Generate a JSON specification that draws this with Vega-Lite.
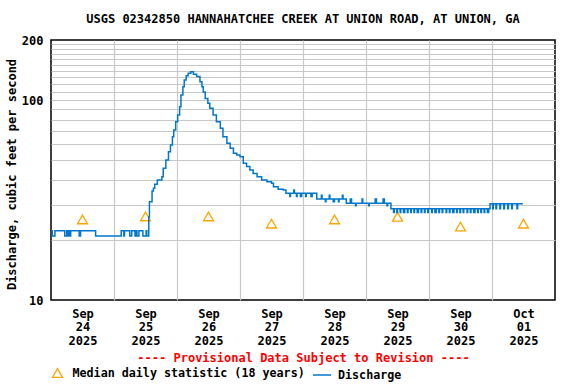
{
  "$schema": "https://vega.github.io/schema/vega-lite/v6.json",
  "width": 504,
  "height": 260,
  "autosize": "none",
  "padding": {"left": 51, "top": 40, "right": 21, "bottom": 84},
  "background": "white",
  "title": {"text": "USGS 02342850 HANNAHATCHEE CREEK AT UNION ROAD, AT UNION, GA", "font": "DejaVu Sans Mono", "fontSize": 12, "fontWeight": "bold", "color": "black", "anchor": "middle", "frame": "group", "offset": 8},
  "config": {
    "view": {"stroke": "black", "strokeWidth": 1.5},
    "axis": {"labelFont": "DejaVu Sans Mono", "labelFontSize": 12, "labelFontWeight": "bold", "labelColor": "black", "titleFont": "DejaVu Sans Mono", "titleFontSize": 12, "titleFontWeight": "bold", "titleColor": "black", "gridColor": "#C8C8C8", "gridWidth": 1.2, "gridOpacity": 1},
    "legend": {"labelFont": "DejaVu Sans Mono", "labelFontSize": 11.7, "labelFontWeight": "bold", "labelColor": "black", "padding": 0, "labelLimit": 400}
  },
  "datasets": {
    "flow": [
      {"t": "2025-09-24T00:00", "q": 22.2}, {"t": "2025-09-24T00:30", "q": 20.9}, {"t": "2025-09-24T01:30", "q": 22.2},
      {"t": "2025-09-24T05:15", "q": 20.9}, {"t": "2025-09-24T06:00", "q": 22.2}, {"t": "2025-09-24T06:30", "q": 20.9},
      {"t": "2025-09-24T06:45", "q": 22.2}, {"t": "2025-09-24T07:15", "q": 20.9}, {"t": "2025-09-24T07:30", "q": 22.2},
      {"t": "2025-09-24T10:45", "q": 20.9}, {"t": "2025-09-24T11:15", "q": 22.2}, {"t": "2025-09-24T17:00", "q": 20.9},
      {"t": "2025-09-25T02:45", "q": 22.2}, {"t": "2025-09-25T03:45", "q": 20.9}, {"t": "2025-09-25T04:00", "q": 22.2},
      {"t": "2025-09-25T06:00", "q": 20.9}, {"t": "2025-09-25T06:45", "q": 22.2}, {"t": "2025-09-25T08:00", "q": 20.9},
      {"t": "2025-09-25T08:15", "q": 22.2}, {"t": "2025-09-25T08:45", "q": 20.9}, {"t": "2025-09-25T09:30", "q": 22.2},
      {"t": "2025-09-25T11:00", "q": 20.9}, {"t": "2025-09-25T12:15", "q": 22.2}, {"t": "2025-09-25T12:30", "q": 20.9},
      {"t": "2025-09-25T13:15", "q": 26.0}, {"t": "2025-09-25T13:30", "q": 31.0}, {"t": "2025-09-25T14:30", "q": 35.1},
      {"t": "2025-09-25T15:00", "q": 36.2}, {"t": "2025-09-25T15:30", "q": 37.9}, {"t": "2025-09-25T16:30", "q": 39.9},
      {"t": "2025-09-25T18:15", "q": 41.4}, {"t": "2025-09-25T18:45", "q": 45.6}, {"t": "2025-09-25T19:45", "q": 50.2},
      {"t": "2025-09-25T20:45", "q": 55.2}, {"t": "2025-09-25T21:30", "q": 59.7}, {"t": "2025-09-25T22:15", "q": 65.6},
      {"t": "2025-09-25T22:45", "q": 70.9}, {"t": "2025-09-25T23:30", "q": 78.0}, {"t": "2025-09-26T00:15", "q": 84.3},
      {"t": "2025-09-26T01:00", "q": 92.7}, {"t": "2025-09-26T01:30", "q": 106}, {"t": "2025-09-26T02:15", "q": 116.8},
      {"t": "2025-09-26T02:45", "q": 126.2}, {"t": "2025-09-26T03:30", "q": 132.6}, {"t": "2025-09-26T04:15", "q": 136.3},
      {"t": "2025-09-26T05:15", "q": 138.9}, {"t": "2025-09-26T06:15", "q": 134.8}, {"t": "2025-09-26T07:30", "q": 131.2},
      {"t": "2025-09-26T08:45", "q": 123.8}, {"t": "2025-09-26T09:30", "q": 116.8}, {"t": "2025-09-26T10:00", "q": 110},
      {"t": "2025-09-26T10:45", "q": 102}, {"t": "2025-09-26T11:45", "q": 96.5}, {"t": "2025-09-26T12:30", "q": 91},
      {"t": "2025-09-26T13:45", "q": 84.3}, {"t": "2025-09-26T15:00", "q": 78}, {"t": "2025-09-26T16:30", "q": 72.3},
      {"t": "2025-09-26T17:30", "q": 65.6}, {"t": "2025-09-26T19:00", "q": 60.8}, {"t": "2025-09-26T20:15", "q": 57.4},
      {"t": "2025-09-26T21:30", "q": 54.2}, {"t": "2025-09-26T22:45", "q": 53.2}, {"t": "2025-09-27T00:00", "q": 52.1},
      {"t": "2025-09-27T01:15", "q": 48.3}, {"t": "2025-09-27T02:30", "q": 46.5}, {"t": "2025-09-27T03:45", "q": 44.7},
      {"t": "2025-09-27T05:00", "q": 43.0}, {"t": "2025-09-27T06:30", "q": 41.4}, {"t": "2025-09-27T08:15", "q": 39.8},
      {"t": "2025-09-27T10:15", "q": 39.1}, {"t": "2025-09-27T12:00", "q": 38.4}, {"t": "2025-09-27T12:45", "q": 36.9},
      {"t": "2025-09-27T14:30", "q": 35.8}, {"t": "2025-09-27T16:30", "q": 35.5}, {"t": "2025-09-27T17:30", "q": 34.2},
      {"t": "2025-09-27T19:00", "q": 33.0}, {"t": "2025-09-27T19:15", "q": 34.2}, {"t": "2025-09-27T20:30", "q": 35.5},
      {"t": "2025-09-27T20:45", "q": 34.2}, {"t": "2025-09-27T21:30", "q": 33.0}, {"t": "2025-09-27T21:45", "q": 34.2},
      {"t": "2025-09-27T23:00", "q": 33.0}, {"t": "2025-09-27T23:30", "q": 34.2}, {"t": "2025-09-28T01:00", "q": 33.0},
      {"t": "2025-09-28T01:15", "q": 34.2}, {"t": "2025-09-28T03:00", "q": 33.0}, {"t": "2025-09-28T03:30", "q": 34.2},
      {"t": "2025-09-28T05:15", "q": 32.0}, {"t": "2025-09-28T07:00", "q": 33.4}, {"t": "2025-09-28T07:15", "q": 32.0},
      {"t": "2025-09-28T08:30", "q": 31.0}, {"t": "2025-09-28T08:45", "q": 32.0}, {"t": "2025-09-28T10:00", "q": 33.4},
      {"t": "2025-09-28T10:15", "q": 32.0}, {"t": "2025-09-28T11:30", "q": 31.0}, {"t": "2025-09-28T12:00", "q": 32.0},
      {"t": "2025-09-28T13:30", "q": 31.0}, {"t": "2025-09-28T13:45", "q": 32.0}, {"t": "2025-09-28T15:00", "q": 33.4},
      {"t": "2025-09-28T15:15", "q": 32.0}, {"t": "2025-09-28T16:30", "q": 30.5}, {"t": "2025-09-28T18:00", "q": 32.0},
      {"t": "2025-09-28T18:30", "q": 30.5}, {"t": "2025-09-28T20:00", "q": 29.6}, {"t": "2025-09-28T20:15", "q": 30.5},
      {"t": "2025-09-28T22:30", "q": 32.0}, {"t": "2025-09-28T22:45", "q": 30.5}, {"t": "2025-09-29T01:00", "q": 29.6},
      {"t": "2025-09-29T01:15", "q": 30.5}, {"t": "2025-09-29T03:30", "q": 32.0}, {"t": "2025-09-29T04:00", "q": 30.5},
      {"t": "2025-09-29T06:30", "q": 32.0}, {"t": "2025-09-29T07:00", "q": 30.5}, {"t": "2025-09-29T08:00", "q": 29.6},
      {"t": "2025-09-29T08:15", "q": 30.5}, {"t": "2025-09-29T09:30", "q": 28.6},
      {"t": "2025-09-29T10:30", "q": 27.4}, {"t": "2025-09-29T10:45", "q": 28.6}, {"t": "2025-09-29T11:45", "q": 27.4},
      {"t": "2025-09-29T12:00", "q": 28.6}, {"t": "2025-09-29T13:00", "q": 27.4}, {"t": "2025-09-29T13:15", "q": 28.6},
      {"t": "2025-09-29T14:15", "q": 27.4}, {"t": "2025-09-29T14:45", "q": 28.6}, {"t": "2025-09-29T15:45", "q": 27.4},
      {"t": "2025-09-29T16:00", "q": 28.6}, {"t": "2025-09-29T17:00", "q": 27.4}, {"t": "2025-09-29T17:15", "q": 28.6},
      {"t": "2025-09-29T18:15", "q": 27.4}, {"t": "2025-09-29T18:30", "q": 28.6}, {"t": "2025-09-29T19:30", "q": 27.4},
      {"t": "2025-09-29T20:00", "q": 28.6}, {"t": "2025-09-29T21:00", "q": 27.4}, {"t": "2025-09-29T21:15", "q": 28.6},
      {"t": "2025-09-29T22:15", "q": 27.4}, {"t": "2025-09-29T22:30", "q": 28.6}, {"t": "2025-09-29T23:30", "q": 27.4},
      {"t": "2025-09-29T23:45", "q": 28.6}, {"t": "2025-09-30T01:00", "q": 27.4}, {"t": "2025-09-30T01:15", "q": 28.6},
      {"t": "2025-09-30T02:15", "q": 27.4}, {"t": "2025-09-30T02:45", "q": 28.6}, {"t": "2025-09-30T03:45", "q": 27.4},
      {"t": "2025-09-30T04:00", "q": 28.6}, {"t": "2025-09-30T05:00", "q": 27.4}, {"t": "2025-09-30T05:15", "q": 28.6},
      {"t": "2025-09-30T06:30", "q": 27.4}, {"t": "2025-09-30T06:45", "q": 28.6}, {"t": "2025-09-30T07:45", "q": 27.4},
      {"t": "2025-09-30T08:00", "q": 28.6}, {"t": "2025-09-30T09:00", "q": 27.4}, {"t": "2025-09-30T09:30", "q": 28.6},
      {"t": "2025-09-30T10:30", "q": 27.4}, {"t": "2025-09-30T10:45", "q": 28.6}, {"t": "2025-09-30T11:45", "q": 27.4},
      {"t": "2025-09-30T12:00", "q": 28.6}, {"t": "2025-09-30T13:00", "q": 27.4}, {"t": "2025-09-30T13:15", "q": 28.6},
      {"t": "2025-09-30T14:30", "q": 27.4}, {"t": "2025-09-30T14:45", "q": 28.6}, {"t": "2025-09-30T15:45", "q": 27.4},
      {"t": "2025-09-30T16:00", "q": 28.6}, {"t": "2025-09-30T17:00", "q": 27.4}, {"t": "2025-09-30T17:30", "q": 28.6},
      {"t": "2025-09-30T18:30", "q": 27.4}, {"t": "2025-09-30T18:45", "q": 28.6}, {"t": "2025-09-30T19:45", "q": 27.4},
      {"t": "2025-09-30T20:00", "q": 28.6}, {"t": "2025-09-30T21:00", "q": 27.4}, {"t": "2025-09-30T21:15", "q": 28.6},
      {"t": "2025-09-30T22:15", "q": 27.4}, {"t": "2025-09-30T22:45", "q": 28.6}, {"t": "2025-09-30T23:15", "q": 30.3},
      {"t": "2025-10-01T00:15", "q": 28.6}, {"t": "2025-10-01T00:30", "q": 30.3}, {"t": "2025-10-01T01:30", "q": 28.6},
      {"t": "2025-10-01T01:45", "q": 30.3}, {"t": "2025-10-01T03:00", "q": 28.6}, {"t": "2025-10-01T03:15", "q": 30.3},
      {"t": "2025-10-01T04:30", "q": 28.6}, {"t": "2025-10-01T04:45", "q": 30.3}, {"t": "2025-10-01T06:00", "q": 28.6},
      {"t": "2025-10-01T06:15", "q": 30.3}, {"t": "2025-10-01T07:30", "q": 28.6}, {"t": "2025-10-01T07:45", "q": 30.3},
      {"t": "2025-10-01T09:30", "q": 28.6}, {"t": "2025-10-01T09:45", "q": 30.3}, {"t": "2025-10-01T11:45", "q": 30.3}
    ],
    "median": [
      {"t": "2025-09-24T12:00", "m": 25.3}, {"t": "2025-09-25T12:00", "m": 26.2}, {"t": "2025-09-26T12:00", "m": 26.2},
      {"t": "2025-09-27T12:00", "m": 24.1}, {"t": "2025-09-28T12:00", "m": 25.3}, {"t": "2025-09-29T12:00", "m": 26.1},
      {"t": "2025-09-30T12:00", "m": 23.3}, {"t": "2025-10-01T12:00", "m": 24.1}
    ]
  },
  "resolve": {"axis": {"x": "independent", "y": "independent"}},
  "layer": [
    {
      "data": {"name": "median"},
      "mark": {"type": "point", "shape": "triangle-up", "filled": false, "stroke": "#FFA500", "strokeWidth": 1.3, "size": 100, "opacity": 1},
      "encoding": {
        "x": {"field": "t", "type": "temporal", "scale": {"domain": [{"year": 2025, "month": "sep", "date": 24}, {"year": 2025, "month": "oct", "date": 2}]},
              "axis": {"orient": "bottom", "values": [{"year": 2025, "month": "sep", "date": 25}, {"year": 2025, "month": "sep", "date": 26}, {"year": 2025, "month": "sep", "date": 27}, {"year": 2025, "month": "sep", "date": 28}, {"year": 2025, "month": "sep", "date": 29}, {"year": 2025, "month": "sep", "date": 30}, {"year": 2025, "month": "oct", "date": 1}],
                       "grid": true, "labels": false, "ticks": false, "domain": false, "title": null}},
        "y": {"field": "m", "type": "quantitative", "scale": {"type": "log", "domain": [10, 200], "nice": false},
              "axis": {"orient": "left", "values": [20, 30, 40, 50, 60, 70, 80, 90, 100, 110, 120, 130, 140, 150, 160, 170, 180, 190], "grid": true, "labels": false, "ticks": false, "domain": false, "title": null}},
        "shape": {"datum": "Median daily statistic (18 years)", "scale": {"range": ["triangle-up"]},
                  "legend": {"orient": "none", "legendX": 0.5, "legendY": 327, "title": null, "symbolSize": 100, "symbolStrokeColor": "#FFA500", "symbolFillColor": "transparent", "symbolStrokeWidth": 1.3, "labelOffset": 9}}
      }
    },
    {
      "data": {"name": "flow"},
      "mark": {"type": "line", "interpolate": "step-after", "strokeWidth": 1.5},
      "encoding": {
        "x": {"field": "t", "type": "temporal",
              "axis": {"orient": "bottom", "values": [{"year": 2025, "month": "sep", "date": 24, "hours": 12}, {"year": 2025, "month": "sep", "date": 25, "hours": 12}, {"year": 2025, "month": "sep", "date": 26, "hours": 12}, {"year": 2025, "month": "sep", "date": 27, "hours": 12}, {"year": 2025, "month": "sep", "date": 28, "hours": 12}, {"year": 2025, "month": "sep", "date": 29, "hours": 12}, {"year": 2025, "month": "sep", "date": 30, "hours": 12}, {"year": 2025, "month": "oct", "date": 1, "hours": 12}],
                       "labelExpr": "[timeFormat(datum.value, '%b'), timeFormat(datum.value, '%d'), timeFormat(datum.value, '%Y')]",
                       "labelLineHeight": 13.7, "labelPadding": 8, "grid": false, "ticks": false, "tickSize": 0, "domain": false,
                       "title": "---- Provisional Data Subject to Revision ----", "titleColor": "#FF0000", "titlePadding": 6}},
        "y": {"field": "q", "type": "quantitative",
              "axis": {"orient": "left", "values": [10, 100, 200], "format": "d", "grid": false, "ticks": false, "tickSize": 0, "domain": false, "labelPadding": 8,
                       "title": "Discharge, cubic feet per second", "titleX": -40, "titleY": 134, "titleAngle": -90, "titleAlign": "center", "titleBaseline": "middle"}},
        "color": {"datum": "Discharge", "scale": {"range": ["#0077CC"]},
                  "legend": {"orient": "none", "legendX": 261, "legendY": 325, "title": null, "symbolType": "stroke", "symbolSize": 324, "symbolStrokeWidth": 1.5, "labelOffset": 6}}
      }
    }
  ]
}
